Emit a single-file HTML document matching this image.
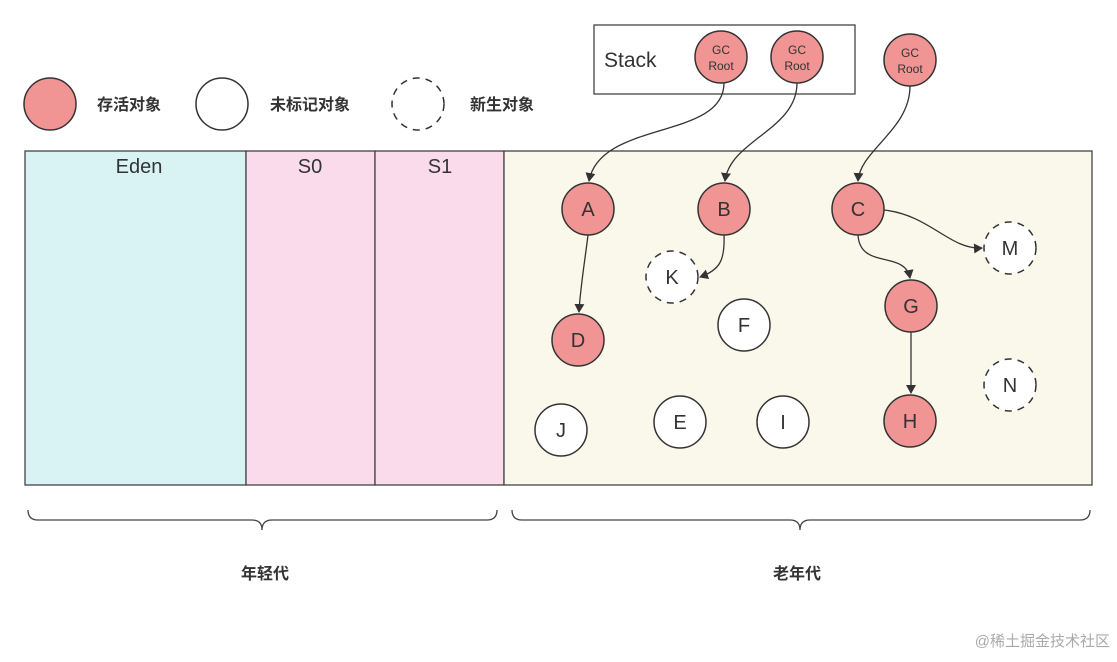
<!DOCTYPE html><html><head><style>body{margin:0;background:#fff}</style></head><body>
<svg width="1117" height="657" viewBox="0 0 1117 657" xmlns="http://www.w3.org/2000/svg" font-family="Liberation Sans, Noto Sans CJK SC, sans-serif">
<defs><marker id="ar" markerWidth="10" markerHeight="10" refX="8" refY="5" orient="auto" markerUnits="userSpaceOnUse"><path d="M0,0 L9,5 L0,10 z" fill="#333"/></marker></defs>
<g stroke="#333" stroke-width="1.5">
<circle cx="50" cy="104" r="26" fill="#f09494"/>
<circle cx="222" cy="104" r="26" fill="#fff"/>
<circle cx="418" cy="104" r="26" fill="#fff" stroke-dasharray="7,6"/>
</g>
<g font-size="16" font-weight="bold" fill="#333">
<text x="97" y="110">存活对象</text><text x="270" y="110">未标记对象</text><text x="470" y="110">新生对象</text>
</g>
<g stroke="#444" stroke-width="1.3">
<rect x="25" y="151" width="221" height="334" fill="#d9f3f5"/>
<rect x="246" y="151" width="129" height="334" fill="#f9dbec"/>
<rect x="375" y="151" width="129" height="334" fill="#f9dbec"/>
<rect x="504" y="151" width="588" height="334" fill="#faf8eb"/>
<rect x="594" y="25" width="261" height="69" fill="#fff"/>
</g>
<g font-size="20" fill="#333" text-anchor="middle">
<text x="139" y="173">Eden</text><text x="310" y="173">S0</text><text x="440" y="173">S1</text>
</g>
<text x="604" y="67" font-size="21" fill="#333">Stack</text>
<g fill="none" stroke="#333" stroke-width="1.3" marker-end="url(#ar)">
<path d="M724,83 C724,140 600,120 589,181"/>
<path d="M797,83 C797,130 730,140 725,181"/>
<path d="M910,86 C910,130 860,150 858,181"/>
<path d="M588,235 C585,260 580,290 579,312"/>
<path d="M724,235 C725,260 720,270 700,277"/>
<path d="M884,210 C930,215 950,250 982,248"/>
<path d="M858,235 C860,270 905,250 910,278"/>
<path d="M911,332 L911,393"/>
</g>
<g stroke="#333" stroke-width="1.5">
<circle cx="721" cy="57" r="26" fill="#f09494"/>
<circle cx="797" cy="57" r="26" fill="#f09494"/>
<circle cx="910" cy="60" r="26" fill="#f09494"/>
<circle cx="588" cy="209" r="26" fill="#f09494"/>
<circle cx="724" cy="209" r="26" fill="#f09494"/>
<circle cx="858" cy="209" r="26" fill="#f09494"/>
<circle cx="911" cy="306" r="26" fill="#f09494"/>
<circle cx="578" cy="340" r="26" fill="#f09494"/>
<circle cx="910" cy="421" r="26" fill="#f09494"/>
<circle cx="744" cy="325" r="26" fill="#fff"/>
<circle cx="561" cy="430" r="26" fill="#fff"/>
<circle cx="680" cy="422" r="26" fill="#fff"/>
<circle cx="783" cy="422" r="26" fill="#fff"/>
<g stroke-dasharray="7,6" fill="#fff">
<circle cx="1010" cy="248" r="26"/><circle cx="672" cy="277" r="26"/><circle cx="1010" cy="385" r="26"/>
</g></g>
<g font-size="12" fill="#333" text-anchor="middle">
<text x="721" y="54">GC</text><text x="721" y="70">Root</text>
<text x="797" y="54">GC</text><text x="797" y="70">Root</text>
<text x="910" y="57">GC</text><text x="910" y="73">Root</text>
</g>
<g font-size="20" fill="#333" text-anchor="middle">
<text x="588" y="216">A</text><text x="724" y="216">B</text><text x="858" y="216">C</text>
<text x="911" y="313">G</text><text x="578" y="347">D</text><text x="910" y="428">H</text>
<text x="744" y="332">F</text><text x="561" y="437">J</text><text x="680" y="429">E</text>
<text x="783" y="429">I</text><text x="1010" y="255">M</text><text x="672" y="284">K</text><text x="1010" y="392">N</text>
</g>
<g fill="none" stroke="#444" stroke-width="1.3">
<path d="M28,510 Q28,520 38,520 L252,520 Q262,520 262,530 Q262,520 272,520 L487,520 Q497,520 497,510"/>
<path d="M512,510 Q512,520 522,520 L790,520 Q800,520 800,530 Q800,520 810,520 L1080,520 Q1090,520 1090,510"/>
</g>
<g font-size="16" font-weight="bold" fill="#333" text-anchor="middle">
<text x="265" y="579">年轻代</text><text x="797" y="579">老年代</text>
</g>
<text x="1110" y="646" font-size="15" fill="#aaa" text-anchor="end">@稀土掘金技术社区</text>
</svg>
</body></html>
